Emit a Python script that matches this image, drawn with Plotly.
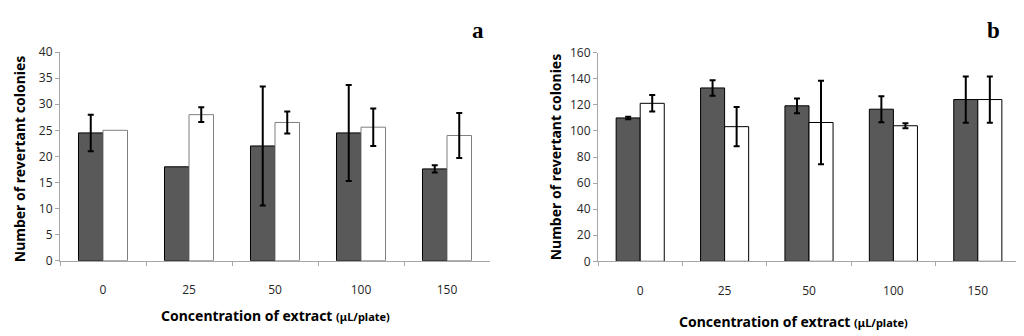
import plotly.graph_objects as go

categories = ["0", "25", "50", "100", "150"]
a_dark = [24.5, 18.0, 22.0, 24.5, 17.6]
a_dark_err = [3.5, 0, 11.4, 9.2, 0.7]
a_white = [25.0, 28.0, 26.5, 25.6, 24.0]
a_white_err = [0, 1.4, 2.1, 3.6, 4.3]
b_dark = [110.0, 133.0, 119.3, 116.7, 124.1]
b_dark_err = [1.0, 6.0, 5.7, 10.0, 17.7]
b_white = [121.2, 103.3, 106.5, 104.0, 124.1]
b_white_err = [6.3, 15.0, 32.0, 2.0, 17.7]
ytitle = "Number of revertant colonies"
xtitle = "Concentration of extract <span style='font-size:11px'>(\u03bcL/plate)</span>"

DARK = "#595959"
# page body has an 8px margin, so the figure is drawn from (8, 8)
OFF = 8
W, H = 1024 - OFF, 336 - OFF


def fx(x):
    return (x - OFF) / W


def fy(y):
    return (336 - y) / H


def add_series(cats, vals, errs, color, line, xa, ya, group):
    # points with an error bar
    xs = [c for c, e in zip(cats, errs) if e]
    ys = [v for v, e in zip(vals, errs) if e]
    es = [e for e in errs if e]
    fig.add_bar(x=xs, y=ys, offsetgroup=group, xaxis=xa, yaxis=ya,
                error_y=dict(type="data", array=es, visible=True, color="black", thickness=2, width=3),
                marker=dict(color=color, line=dict(color=line, width=1)))
    # points without an error bar
    xs0 = [c for c, e in zip(cats, errs) if not e]
    ys0 = [v for v, e in zip(vals, errs) if not e]
    if xs0:
        fig.add_bar(x=xs0, y=ys0, offsetgroup=group, xaxis=xa, yaxis=ya,
                    marker=dict(color=color, line=dict(color=line, width=1)))


fig = go.Figure()
add_series(categories, a_dark, a_dark_err, DARK, "black", "x", "y", "a1")
add_series(categories, a_white, a_white_err, "white", "#7f7f7f", "x", "y", "a2")
add_series(categories, b_dark, b_dark_err, DARK, "black", "x2", "y2", "b1")
add_series(categories, b_white, b_white_err, "white", "black", "x2", "y2", "b2")

tickfont = dict(family="Open Sans", size=12, color="#262626")
axcommon = dict(showline=True, linecolor="#a6a6a6", linewidth=1, ticks="outside", ticklen=4,
                tickcolor="#a6a6a6", showgrid=False, zeroline=False, tickfont=tickfont)

fig.update_layout(
    width=W, height=H, margin=dict(l=0, r=0, t=0, b=0),
    paper_bgcolor="white", plot_bgcolor="white", showlegend=False,
    barmode="group", bargap=0.43, bargroupgap=0,
    xaxis=dict(domain=[fx(60), fx(490)], type="category", categoryorder="array",
               categoryarray=categories, tickson="boundaries", anchor="y",
               ticklabelstandoff=18, **axcommon),
    yaxis=dict(domain=[fy(265), fy(45)], range=[0, 40], dtick=5, anchor="x", **axcommon),
    xaxis2=dict(domain=[fx(598), fx(1020)], type="category", categoryorder="array",
                categoryarray=categories, tickson="boundaries", anchor="y2",
                ticklabelstandoff=18, **axcommon),
    yaxis2=dict(domain=[fy(265.7), fy(45.7)], range=[0, 160], dtick=20, anchor="x2", **axcommon),
)

tfont = dict(family="Noto Sans", size=14, color="black")
ann = [
    dict(x=fx(19), y=fy(158), text="<b>" + ytitle + "</b>", textangle=-90, font=tfont),
    dict(x=fx(555), y=fy(156), text="<b>" + ytitle + "</b>", textangle=-90, font=tfont),
    dict(x=fx(275), y=fy(323), text="<b>" + xtitle + "</b>", font=tfont),
    dict(x=fx(793), y=fy(329), text="<b>" + xtitle + "</b>", font=tfont),
    dict(x=fx(478), y=1, yanchor="top", text="<b>a</b>",
         font=dict(family="Liberation Serif", size=23, color="black")),
    dict(x=fx(993), y=1, yanchor="top", text="<b>b</b>",
         font=dict(family="Liberation Serif", size=23, color="black")),
]
for a in ann:
    a.update(xref="paper", yref="paper", showarrow=False, xanchor="center", borderpad=0)
    a.setdefault("yanchor", "middle")
fig.update_layout(annotations=ann)

fig.write_html("out.html")
